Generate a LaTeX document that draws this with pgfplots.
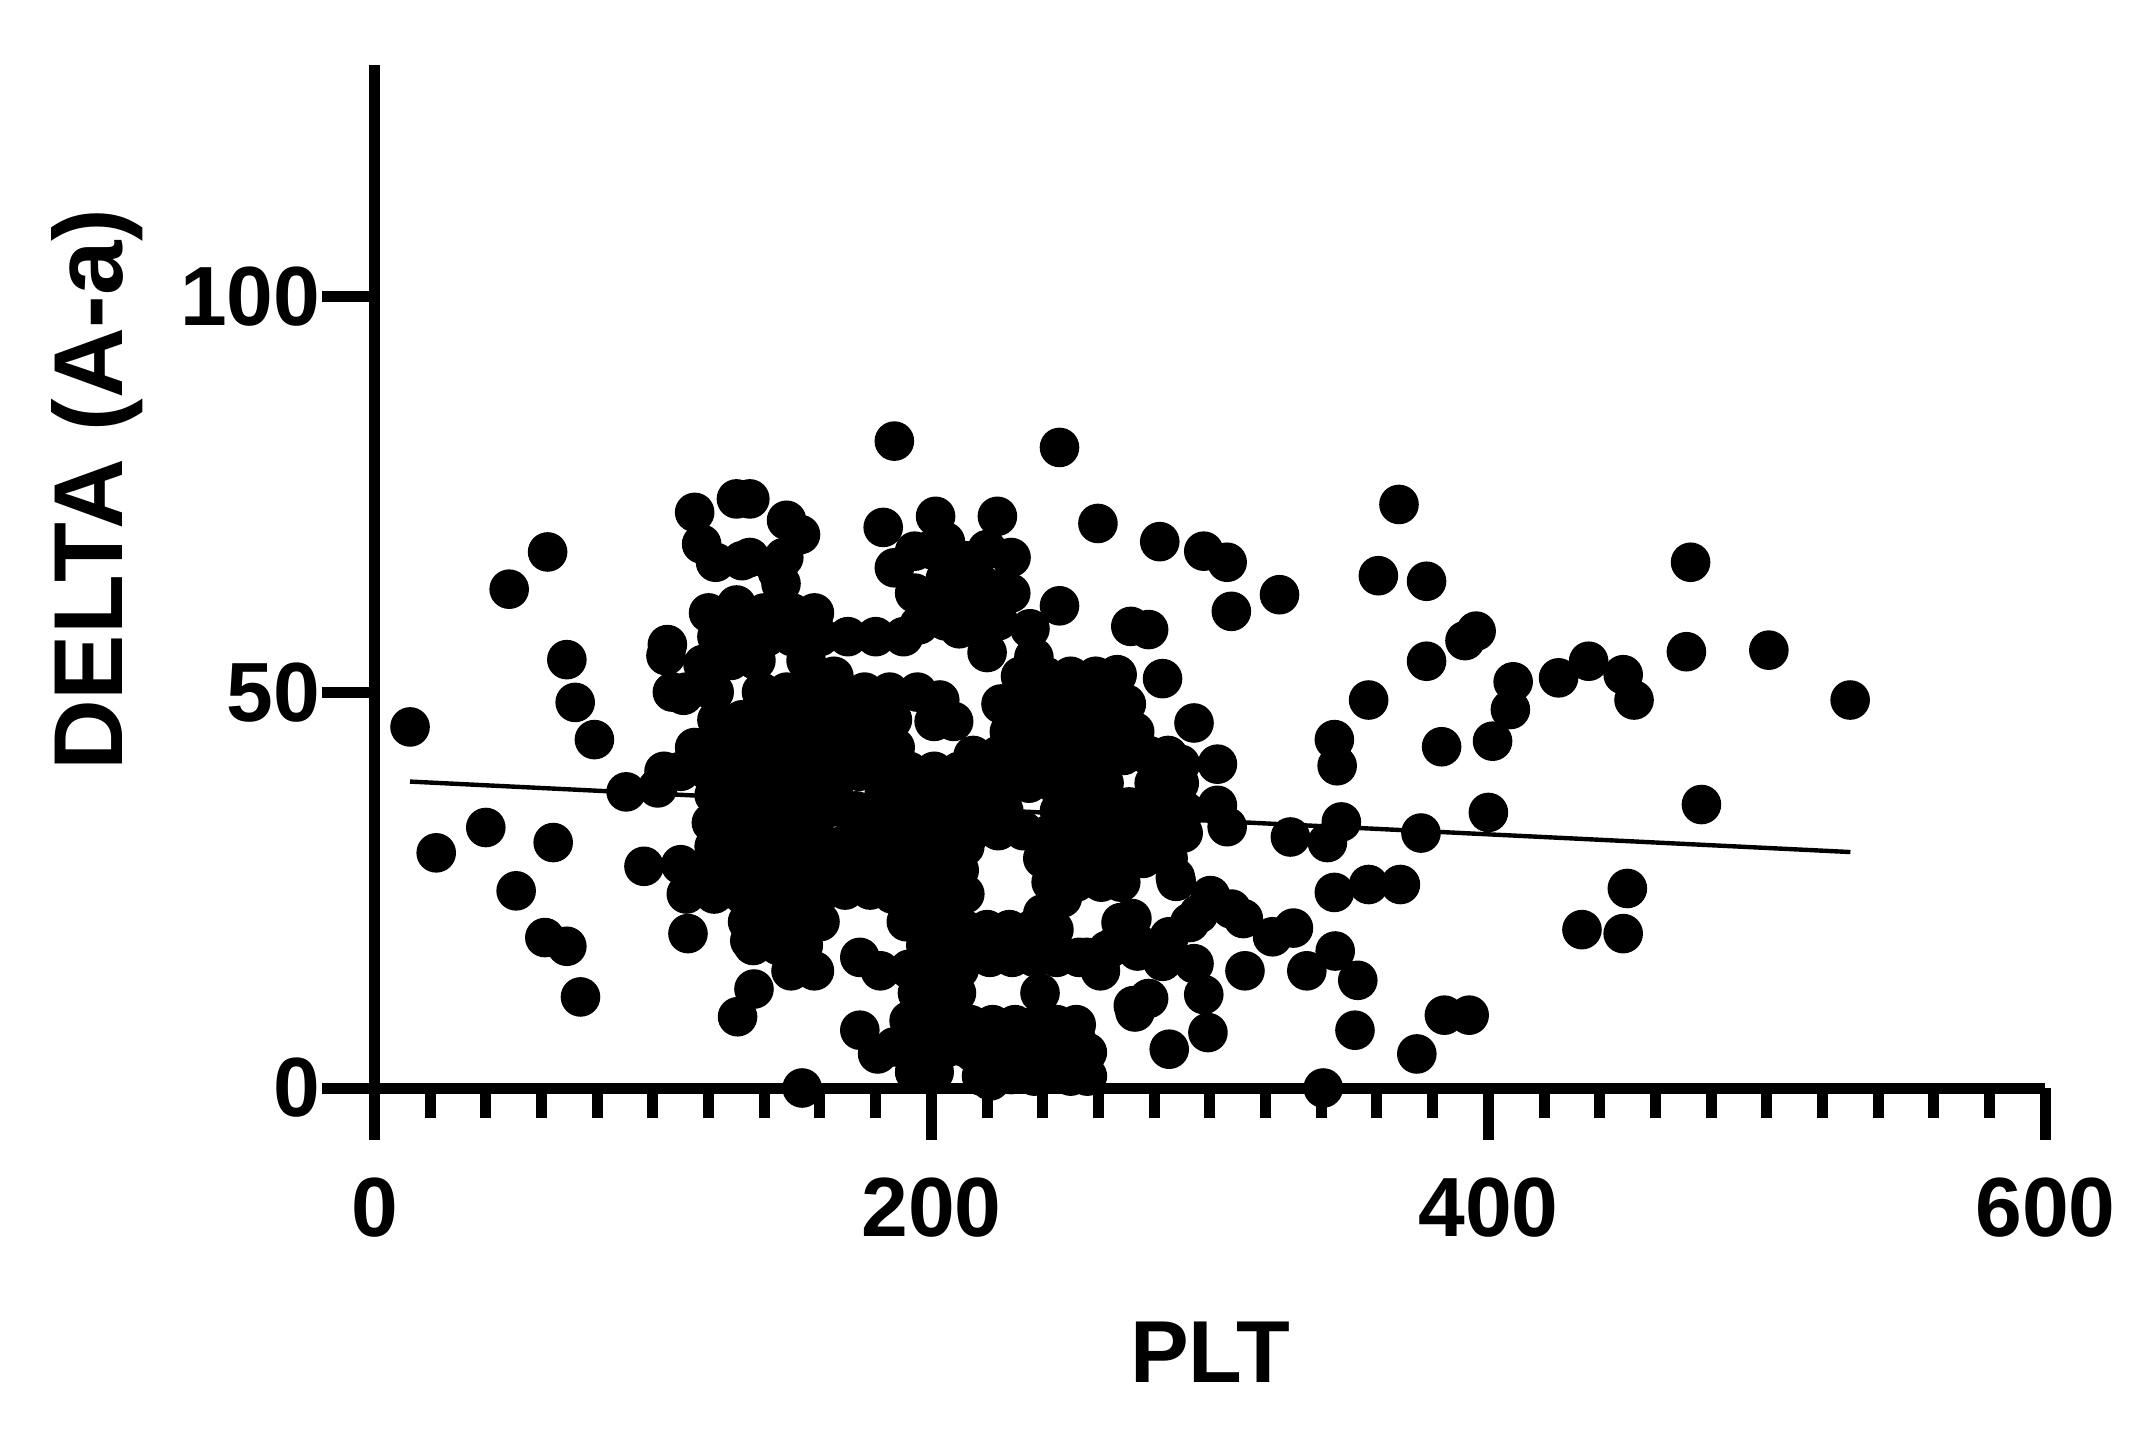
\documentclass[border=0pt]{standalone}
\usepackage{pgfplots}
\pgfplotsset{compat=1.18}
\usepackage{pgfplotstable}
\usepackage{fontspec}
\setmainfont{Liberation Sans}

\pgfplotstableread{
x y
12.8 45.6
22.2 29.7
40 32.9
48.4 63
50.9 24.9
62.2 67.7
64.2 31
61.2 19
69.1 17.9
69.1 54.1
72.1 48.7
79 44
74 11.5
90.4 37.4
96.8 28
101.7 37.9
105.2 56
104.7 54.6
110 28.2
112.6 19.5
111 49.6
115 72.7
117.5 68.7
122.5 66.4
130 74.4
134.8 74.4
148 71.7
153 69.9
134.8 67
144.7 65.2
132 66.6
147 67
146 63.7
130.4 9
136.3 12.5
153.6 0
149.6 14.8
158 14.8
134.8 18.6
174.3 16.5
181.7 14.8
174.3 7.3
180.7 4.3
186.7 81.7
182.7 70.8
201.5 72.2
194 67.8
186.7 65.7
211.4 66
223.7 72.2
228.6 67
246 80.9
246 60.9
259.8 71.3
282 69
297.8 67.8
306.2 66.4
307.7 60.2
325 62.3
367.9 73.7
360.5 64.7
377.8 64
377.8 53.9
391.6 56.5
395.6 57.7
357 49
344.7 44
345.7 40.7
383.2 43.1
401.5 43.8
408.9 51.3
407.9 47.8
425.2 51.8
436 53.9
448.4 52.2
452.3 49
471.1 55.1
472.6 66.4
500.7 55.3
529.9 49
476.5 35.8
449.9 25.2
448.4 19.5
433.6 20
400 34.8
375.8 32.2
347.2 33.6
342.2 31
328.9 31.7
344.7 24.7
357 25.7
368.4 25.7
352.1 7.3
353.1 13.6
374.3 4.3
384.2 9.2
393.1 9.2
340.7 0
285.4 4.9
299.3 7
273.1 9.6
278 11.3
294.3 15.7
297.8 11.8
312.6 14.8
300.2 24.3
287.9 26.1
302.7 40.9
294.3 46.1
283 51.7
266.7 52.2
271.6 58.3
278 57.9
302.7 35.7
306.2 33
290.4 32.2
287.9 37.4
289.4 40.9
312 21.4
322.5 19.1
330 20.2
334.8 14.8
345 17.3
307.7 22.6
263.2 17.4
260.7 14.8
255.8 16.5
268.1 20.9
285.4 19.1
292.8 20.9
250.9 2.6
252 6.1
228.6 1.7
221.2 0.9
233.6 6.1
211.4 5.2
199 3.5
186.7 5.2
194 7.8
120 60
130 61
140 60
150 60
158 60
123 57
132 57
141 57
150 57
160 57
170 57
180 57
190 57
118 53.5
128 54
137 54
155 54
165 52
107 50
112 50
122 50
139 50
148 50
158 50
167 50
176 50
185 50
195 50
203 49
123 46.5
132 46.5
141 46.5
150 46.5
159 46.5
168 46.5
177 46.5
186 46.5
201 46.3
208 46.3
115 43
124 43
133 43
142 43
151 43
160 43
169 43
178 43
187 43
104 40
110 40
120 40
129 40
138 40
147 40
156 40
165 40
174 40
183 40
192 40
201 40
210 40
122 37
131 37
140 37
149 37
158 37
165 37
183 37
192 37
201 37
210 37
121 33.5
130 33.5
139 33.5
148 33.5
154 33.5
158 33.5
165 35.5
173 35
173 33
181 35
180 33.5
189 33.5
198 33.5
207 33.5
122 30.5
131 30.5
140 30.5
149 30.5
158 30.5
167 30.5
176 30.5
185 30.5
194 30.5
203 30.5
212 30.5
120 27.5
129 27.5
138 27.5
147 27.5
156 27.5
165 27.5
174 27.5
183 27.5
192 27.5
201 27.5
210 27.5
112 24.5
122 24.5
132 24.5
142 24.5
151 24.5
160 24.5
169 25
178 25
186 24.5
195 24.5
204 24.5
212 24.5
134 21
143 21
152 21
160 21
191 21
200 21
209 21
136 18
145 18
154 18
198 18
207 18
150 15
192 15
201 15
210 15
195 12
204 12
192 8.5
200 8.5
206 8.5
190 5
198 5
205 5
194 2
201 2
194 62.5
200 68
205 69
220 68
222 63
212 62
201 62
210 58
224 59
205 64.3
217.6 63.7
228.5 62.5
220 55
235.4 58
236.8 54.4
217.6 59.6
205 59
195.6 58.5
212 66.6
232 52
241 52
250 52
259 52
225 48.5
234 48.5
243 48.5
252 48.5
261 48.5
270 48.5
228 45
237 45
246 45
255 45
264 45
273 45
215 42
224 42
233 42
242 42
251 42
260 42
269 42
278 42
285 42
199 38.5
208 38.5
217 38.5
226 38.5
235 38.5
244 38.5
253 38.5
262 38.5
271 35.5
280 38.5
289 38.5
199 35
208 35
217 35
226 35
246 35
255 35
264 35
273 35
282 35
291 35
215 32.5
224 32.5
233 32.5
242 32
251 32
260 32
269 32
278 32
287 31.8
240 29
249 29
258 29
267 29
276 29
285 29
243 26
252 26
261 26
268 26
287.6 26.6
240 22
247 24
272 21.4
296 22
212 20
220 20
228 20
236 20
244 20
213 16.5
221 16.5
229 16.5
237 16.5
245 16.5
253 16.5
266 18
275 18
283 16
274 17.3
239 12
209 12
272.5 10.4
214 8
222 8
230 8
238 8
245 8
252 8
215 4.5
224 4.5
233 4.5
240 4.5
248 4.5
256 4.5
218 1.5
237 1.5
250 1.5
256 1.5
}\scatterdata

\begin{document}
\begin{tikzpicture}
\path[use as bounding box] (-93.6pt,-90pt) rectangle (445.4pt,272pt);
\begin{axis}[
    scale only axis,
    width=417.75pt,
    height=255.75pt,
    xmin=0, xmax=600,
    ymin=0, ymax=129.2,
    axis x line=bottom,
    axis y line=left,
    axis line style={-,line width=2.75pt},
    xtick={0,200,400,600},
    ytick={0,50,100},
    minor x tick num=9,
    tick align=outside,
    tickwidth=13pt,
    subtickwidth=7.4pt,
    tick style={black,line width=2.75pt},
    clip=false,
    /pgf/number format/assume math mode=true,
    ticklabel style={font=\fontsize{21}{21}\selectfont\bfseries},
    xticklabel style={yshift=-6pt},
    yticklabel style={xshift=3pt},
    every axis x label/.style={at={(rel axis cs:0.5,-0.258)},anchor=center},
    every axis y label/.style={at={(rel axis cs:-0.166,0.585)},rotate=90,anchor=center},
    xlabel={\fontsize{22}{22}\selectfont\bfseries PLT},
    ylabel={\fontsize{24.5}{24.5}\selectfont\bfseries DELTA (A-a)},
]
\addplot[only marks,mark=*,mark size=4.75pt,mark options={draw=none,fill=black}] table[x=x,y=y] {\scatterdata};
\addplot[black,line width=1.1pt] coordinates {(12.8,38.7) (530,29.8)};
\end{axis}
\end{tikzpicture}
\end{document}
